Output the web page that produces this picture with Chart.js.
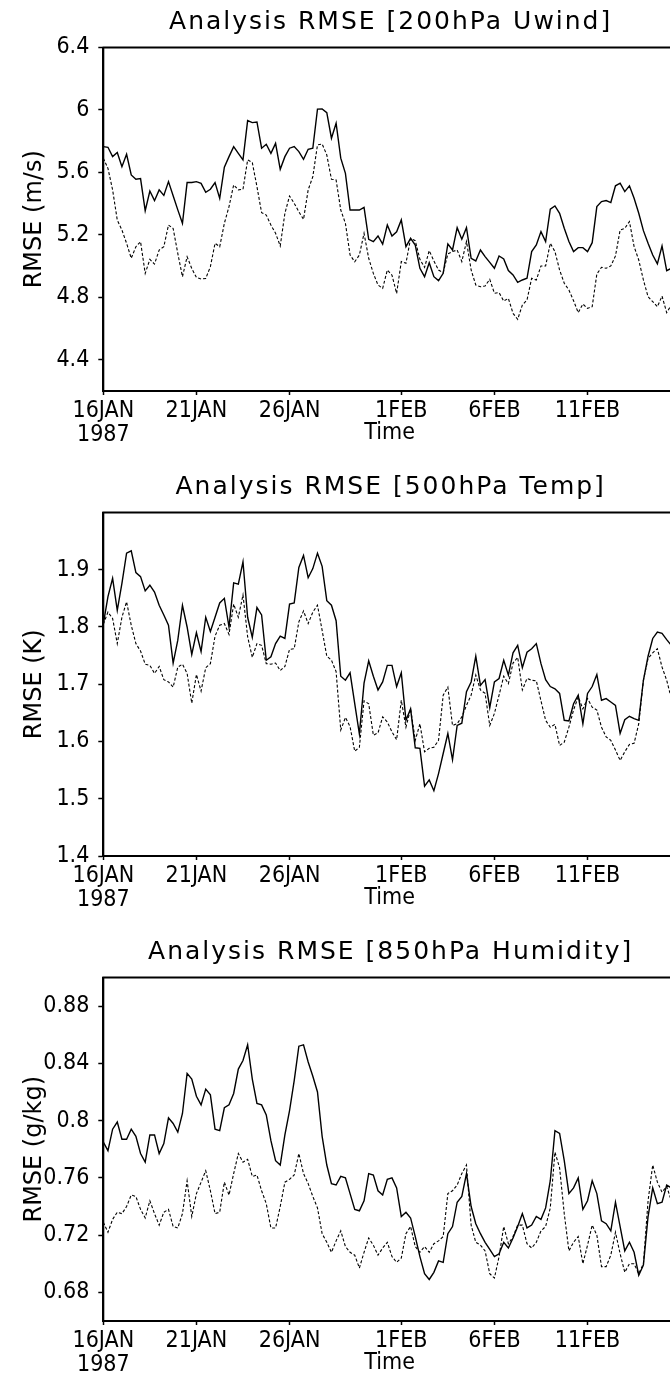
<!DOCTYPE html>
<html>
<head>
<meta charset="utf-8">
<title>Analysis RMSE time series</title>
<script src="https://cdn.jsdelivr.net/npm/chart.js@4.4.1/dist/chart.umd.min.js"></script>
<style>
  html, body { margin: 0; padding: 0; background: #fff; width: 670px; height: 1378px; overflow: hidden; position: relative; }
  .panel { position: absolute; left: 0; width: 690px; height: 465px; }
  canvas { display: block; }
</style>
</head>
<body>
<div class="panel" style="top:0px"><canvas id="uwind" width="690" height="465"></canvas></div>
<div class="panel" style="top:465px"><canvas id="temp" width="690" height="465"></canvas></div>
<div class="panel" style="top:930px"><canvas id="hum" width="690" height="465"></canvas></div>
<script>
// 6-hourly analyses starting 16JAN1987 00Z; x axis is measured in days
const STEP_DAYS = 0.25;
const AXIS_END_DAYS = 30.75;

// date ticks (days after 16JAN1987) and their labels
const tickDays = [0, 5, 10, 16, 21, 26];
const tickLabels = [['16JAN', '1987'], '21JAN', '26JAN', '1FEB', '6FEB', '11FEB'];

// y tick values per panel
const uwindTicks = [4.4, 4.8, 5.2, 5.6, 6, 6.4];
const tempTicks = [1.4, 1.5, 1.6, 1.7, 1.8, 1.9];
const humTicks = [0.68, 0.72, 0.76, 0.8, 0.84, 0.88];

// 200hPa U-wind RMSE (m/s)
const uwindSolid = [
  5.765, 5.761, 5.701, 5.727, 5.637, 5.716, 5.584, 5.556, 5.560, 5.355,
  5.481, 5.419, 5.488, 5.453, 5.541, 5.450, 5.360, 5.274, 5.535, 5.535,
  5.541, 5.530, 5.473, 5.492, 5.535, 5.434, 5.633, 5.701, 5.765, 5.722,
  5.680, 5.932, 5.919, 5.923, 5.755, 5.780, 5.722, 5.786, 5.620, 5.701,
  5.755, 5.765, 5.733, 5.684, 5.748, 5.755, 6.005, 6.007, 5.983, 5.819,
  5.915, 5.691, 5.594, 5.359, 5.359, 5.359, 5.376, 5.171, 5.156, 5.193,
  5.141, 5.263, 5.193, 5.220, 5.296, 5.125, 5.178, 5.135, 4.986, 4.932,
  5.022, 4.932, 4.907, 4.954, 5.142, 5.103, 5.246, 5.172, 5.246, 5.050,
  5.033, 5.103, 5.061, 5.024, 4.986, 5.065, 5.046, 4.971, 4.943, 4.896,
  4.911, 4.922, 5.093, 5.135, 5.221, 5.157, 5.364, 5.385, 5.338, 5.242,
  5.157, 5.093, 5.118, 5.118, 5.093, 5.150, 5.381, 5.413, 5.420, 5.407,
  5.514, 5.531, 5.477, 5.514, 5.434, 5.338, 5.227, 5.146, 5.071, 5.014,
  5.129, 4.971, 4.986, 4.980
];
const uwindDashed = [
  5.691, 5.626, 5.488, 5.295, 5.231, 5.146, 5.050, 5.124, 5.156, 4.953,
  5.043, 5.013, 5.103, 5.124, 5.263, 5.241, 5.081, 4.932, 5.060, 4.985,
  4.927, 4.917, 4.921, 4.996, 5.146, 5.124, 5.274, 5.381, 5.520, 5.488,
  5.492, 5.680, 5.663, 5.509, 5.342, 5.327, 5.263, 5.210, 5.129, 5.338,
  5.449, 5.402, 5.348, 5.299, 5.488, 5.573, 5.776, 5.782, 5.712, 5.556,
  5.552, 5.359, 5.274, 5.071, 5.028, 5.071, 5.210, 5.050, 4.953, 4.879,
  4.857, 4.975, 4.942, 4.825, 5.029, 5.018, 5.178, 5.163, 5.043, 4.992,
  5.099, 5.033, 4.975, 4.958, 5.078, 5.093, 5.103, 5.029, 5.157, 4.975,
  4.879, 4.868, 4.873, 4.915, 4.826, 4.830, 4.776, 4.793, 4.697, 4.659,
  4.751, 4.783, 4.922, 4.911, 5.001, 5.001, 5.146, 5.093, 4.975, 4.890,
  4.847, 4.778, 4.702, 4.757, 4.729, 4.740, 4.949, 4.992, 4.986, 5.001,
  5.065, 5.231, 5.242, 5.285, 5.125, 5.039, 4.911, 4.804, 4.772, 4.740,
  4.808, 4.702, 4.751, 4.730
];

// 500hPa temperature RMSE (K)
const tempSolid = [
  1.805, 1.853, 1.885, 1.829, 1.876, 1.929, 1.933, 1.895, 1.888, 1.863,
  1.873, 1.861, 1.838, 1.821, 1.803, 1.737, 1.777, 1.838, 1.800, 1.752,
  1.790, 1.757, 1.817, 1.792, 1.817, 1.842, 1.850, 1.800, 1.877, 1.875,
  1.914, 1.817, 1.782, 1.834, 1.821, 1.742, 1.748, 1.771, 1.784, 1.780,
  1.840, 1.842, 1.904, 1.925, 1.886, 1.902, 1.929, 1.906, 1.846, 1.838,
  1.811, 1.714, 1.707, 1.720, 1.666, 1.613, 1.702, 1.741, 1.714, 1.690,
  1.704, 1.733, 1.733, 1.696, 1.720, 1.637, 1.657, 1.589, 1.588, 1.522,
  1.533, 1.514, 1.544, 1.579, 1.614, 1.568, 1.628, 1.632, 1.687, 1.704,
  1.749, 1.698, 1.708, 1.659, 1.704, 1.710, 1.742, 1.716, 1.755, 1.768,
  1.729, 1.756, 1.762, 1.771, 1.736, 1.708, 1.696, 1.692, 1.684, 1.637,
  1.636, 1.666, 1.681, 1.631, 1.684, 1.696, 1.717, 1.672, 1.675, 1.669,
  1.663, 1.614, 1.638, 1.644, 1.640, 1.637, 1.707, 1.749, 1.780, 1.791,
  1.789, 1.778, 1.768, 1.755
];
const tempDashed = [
  1.805, 1.826, 1.815, 1.771, 1.817, 1.844, 1.803, 1.771, 1.758, 1.735,
  1.733, 1.719, 1.731, 1.708, 1.704, 1.695, 1.730, 1.735, 1.719, 1.667,
  1.717, 1.688, 1.729, 1.736, 1.784, 1.803, 1.806, 1.787, 1.840, 1.817,
  1.856, 1.783, 1.747, 1.771, 1.768, 1.736, 1.735, 1.737, 1.724, 1.731,
  1.761, 1.762, 1.809, 1.828, 1.806, 1.826, 1.838, 1.794, 1.749, 1.742,
  1.722, 1.620, 1.642, 1.626, 1.583, 1.590, 1.671, 1.666, 1.611, 1.615,
  1.643, 1.634, 1.617, 1.603, 1.672, 1.625, 1.657, 1.602, 1.631, 1.582,
  1.588, 1.590, 1.602, 1.681, 1.695, 1.628, 1.631, 1.643, 1.663, 1.681,
  1.716, 1.690, 1.684, 1.628, 1.649, 1.681, 1.714, 1.701, 1.737, 1.747,
  1.690, 1.710, 1.707, 1.706, 1.671, 1.637, 1.625, 1.630, 1.593, 1.599,
  1.625, 1.655, 1.678, 1.657, 1.675, 1.660, 1.655, 1.625, 1.608, 1.602,
  1.585, 1.567, 1.582, 1.595, 1.597, 1.631, 1.707, 1.745, 1.755, 1.762,
  1.730, 1.707, 1.675, 1.660
];

// 850hPa specific humidity RMSE (g/kg)
const humSolid = [
  0.785, 0.779, 0.794, 0.799, 0.787, 0.787, 0.794, 0.789, 0.777, 0.771,
  0.790, 0.790, 0.777, 0.784, 0.802, 0.798, 0.792, 0.805, 0.833, 0.829,
  0.817, 0.811, 0.822, 0.818, 0.794, 0.793, 0.809, 0.811, 0.819, 0.836,
  0.842, 0.853, 0.829, 0.812, 0.811, 0.804, 0.786, 0.772, 0.769, 0.790,
  0.807, 0.828, 0.852, 0.853, 0.841, 0.831, 0.820, 0.789, 0.769, 0.756,
  0.755, 0.761, 0.760, 0.749, 0.738, 0.737, 0.744, 0.763, 0.762, 0.751,
  0.748, 0.759, 0.760, 0.753, 0.733, 0.736, 0.732, 0.719, 0.705, 0.693,
  0.689, 0.694, 0.702, 0.701, 0.721, 0.726, 0.743, 0.747, 0.763, 0.740,
  0.728, 0.721, 0.715, 0.710, 0.705, 0.707, 0.715, 0.711, 0.718, 0.726,
  0.735, 0.725, 0.727, 0.733, 0.731, 0.739, 0.758, 0.793, 0.791, 0.772,
  0.749, 0.753, 0.760, 0.738, 0.744, 0.758, 0.749, 0.730, 0.728, 0.723,
  0.743, 0.726, 0.709, 0.715, 0.708, 0.692, 0.699, 0.733, 0.753, 0.742,
  0.743, 0.755, 0.753, 0.750
];
const humDashed = [
  0.729, 0.722, 0.731, 0.736, 0.735, 0.740, 0.748, 0.747, 0.738, 0.732,
  0.744, 0.735, 0.727, 0.736, 0.738, 0.726, 0.725, 0.735, 0.758, 0.733,
  0.749, 0.757, 0.765, 0.751, 0.735, 0.736, 0.757, 0.748, 0.763, 0.777,
  0.771, 0.773, 0.761, 0.762, 0.751, 0.742, 0.725, 0.725, 0.740, 0.757,
  0.759, 0.762, 0.777, 0.763, 0.756, 0.747, 0.739, 0.721, 0.715, 0.708,
  0.716, 0.723, 0.712, 0.708, 0.706, 0.697, 0.708, 0.718, 0.713, 0.706,
  0.711, 0.715, 0.705, 0.701, 0.704, 0.721, 0.726, 0.712, 0.708, 0.712,
  0.708, 0.714, 0.716, 0.719, 0.749, 0.751, 0.755, 0.763, 0.769, 0.727,
  0.715, 0.713, 0.709, 0.693, 0.690, 0.705, 0.726, 0.714, 0.719, 0.727,
  0.727, 0.714, 0.711, 0.715, 0.723, 0.726, 0.739, 0.778, 0.767, 0.735,
  0.709, 0.715, 0.719, 0.700, 0.713, 0.727, 0.720, 0.698, 0.698, 0.706,
  0.722, 0.707, 0.694, 0.700, 0.700, 0.693, 0.700, 0.744, 0.769, 0.757,
  0.750, 0.754, 0.744, 0.745
];

const TICK_FONT = "'DejaVu Sans Condensed', 'DejaVu Sans', sans-serif";
const TEXT_FONT = "'DejaVu Sans', sans-serif";

// frame around the plot area plus the panel heading
const panelDecor = {
  id: 'panelDecor',
  afterDatasetsDraw(chart) {
    const { ctx, chartArea: a } = chart;
    ctx.save();
    ctx.strokeStyle = '#000';
    ctx.lineWidth = 2;
    ctx.strokeRect(a.left, a.top, a.right - a.left, a.bottom - a.top);
    ctx.restore();
  },
  afterDraw(chart, args, opts) {
    const { ctx, chartArea: a } = chart;
    ctx.save();
    ctx.fillStyle = '#000';
    ctx.font = "25px " + TEXT_FONT;
    ctx.letterSpacing = '2px';
    ctx.textAlign = 'center';
    ctx.textBaseline = 'middle';
    ctx.fillText(opts.text, (a.left + a.right) / 2 + 1, opts.y);
    ctx.restore();
  }
};

function pointsOf(values) {
  return values.map((v, i) => ({ x: i * STEP_DAYS, y: v }));
}

function buildPanel(id, heading, yTitle, yMin, yMax, yTicks, solid, dashed) {
  return new Chart(document.getElementById(id), {
    type: 'line',
    data: {
      datasets: [
        { data: pointsOf(solid), borderColor: '#000', borderWidth: 1.4, pointRadius: 0, tension: 0, fill: false },
        { data: pointsOf(dashed), borderColor: '#000', borderWidth: 1.1, borderDash: [3, 2], pointRadius: 0, tension: 0, fill: false }
      ]
    },
    options: {
      responsive: false,
      animation: false,
      events: [],
      layout: { padding: { top: 47.5, right: 14, left: 0, bottom: 0 } },
      plugins: {
        legend: { display: false },
        tooltip: { enabled: false },
        panelDecor: { text: heading, y: 22.5 }
      },
      scales: {
        x: {
          type: 'linear',
          min: 0,
          max: AXIS_END_DAYS,
          afterBuildTicks: s => { s.ticks = tickDays.map(v => ({ value: v })); },
          afterFit: s => { s.height = 74; },
          ticks: {
            autoSkip: false, maxRotation: 0, minRotation: 0, padding: 4, color: '#000',
            font: { family: TICK_FONT, size: 23, lineHeight: 1.05 },
            callback: (v, i) => tickLabels[i]
          },
          grid: { drawOnChartArea: false, drawTicks: true, tickLength: 4, tickWidth: 1.5, tickColor: '#000' },
          border: { display: true, color: '#000', width: 2 },
          title: {
            display: true, text: 'Time', color: '#000',
            font: { family: TICK_FONT, size: 23, lineHeight: 1.05 },
            padding: { top: 0, bottom: 20 }
          }
        },
        y: {
          min: yMin,
          max: yMax,
          afterBuildTicks: s => { s.ticks = yTicks.map(v => ({ value: v })); },
          afterFit: s => { s.width = 103.3; },
          ticks: {
            padding: 9, color: '#000',
            font: { family: TICK_FONT, size: 23 },
            callback: v => String(v)
          },
          grid: { drawOnChartArea: false, drawTicks: true, tickLength: 5, tickWidth: 1.5, tickColor: '#000' },
          border: { display: true, color: '#000', width: 2 },
          title: {
            display: true, text: yTitle, color: '#000',
            font: { family: TEXT_FONT, size: 24, lineHeight: 1.2 },
            padding: { top: 20, bottom: 0 }
          }
        }
      }
    },
    plugins: [panelDecor]
  });
}

buildPanel('uwind', 'Analysis RMSE [200hPa Uwind]', 'RMSE (m/s)', 4.2, 6.4, uwindTicks, uwindSolid, uwindDashed);
buildPanel('temp', 'Analysis RMSE [500hPa Temp]', 'RMSE (K)', 1.4, 2.0, tempTicks, tempSolid, tempDashed);
buildPanel('hum', 'Analysis RMSE [850hPa Humidity]', 'RMSE (g/kg)', 0.66, 0.90, humTicks, humSolid, humDashed);
</script>
</body>
</html>
